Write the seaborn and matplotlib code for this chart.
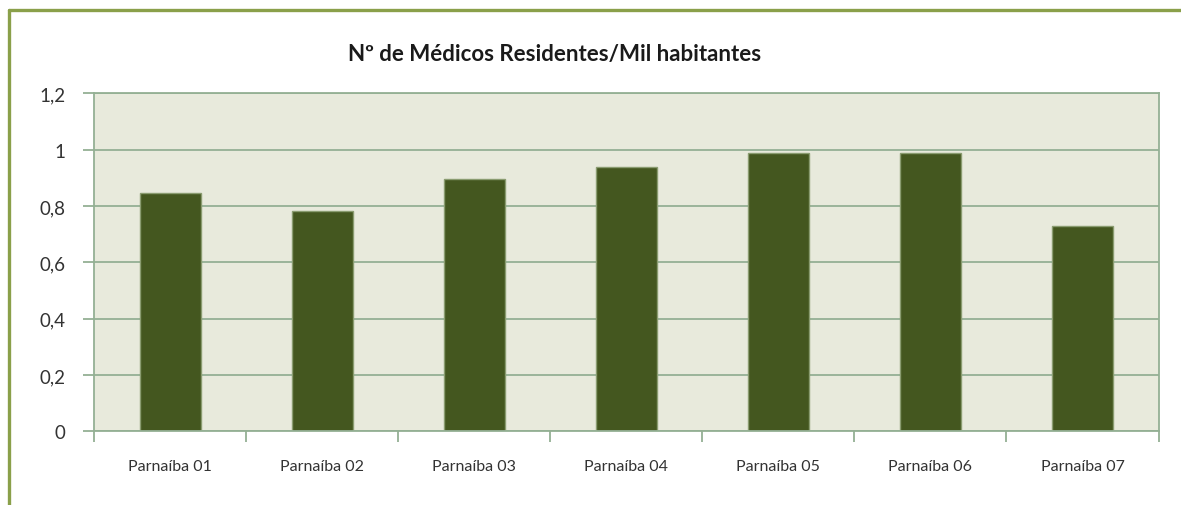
import matplotlib
matplotlib.use("Agg")
import matplotlib.pyplot as plt
import matplotlib.ticker as mticker
from matplotlib.lines import Line2D
import seaborn as sns
import pandas as pd

# Data
regioes = ["Parnaíba 01", "Parnaíba 02", "Parnaíba 03", "Parnaíba 04",
           "Parnaíba 05", "Parnaíba 06", "Parnaíba 07"]
medicos_por_mil = [0.846, 0.783, 0.896, 0.938, 0.988, 0.988, 0.729]
y_ticks = [0, 0.2, 0.4, 0.6, 0.8, 1.0, 1.2]
titulo = "Nº de Médicos Residentes/Mil habitantes"

df = pd.DataFrame({"regiao": regioes, "valor": medicos_por_mil})

sns.set_theme(style="white")
plt.rcParams["font.family"] = ["Lato", "DejaVu Sans"]

W, H = 1181, 506
fig = plt.figure(figsize=(W / 100, H / 100), dpi=100)
fig.patch.set_facecolor("white")

left, right, top, bottom = 94.3, 1158.5, 94.3, 432.3
ax = fig.add_axes([left / W, 1 - bottom / H, (right - left) / W, (bottom - top) / H])
ax.set_facecolor("#e8eadc")

axis_col = "#94b094"
sns.barplot(data=df, x="regiao", y="valor", ax=ax, color="#44571f",
            saturation=1, width=0.40, edgecolor="#8a9c70", linewidth=1.0)

ax.set_ylim(0, 1.2)
ax.set_xlim(-0.5, len(regioes) - 0.5)
ax.set_yticks(y_ticks)
ax.yaxis.set_major_formatter(mticker.FuncFormatter(
    lambda v, _: f"{v:g}".replace(".", ",")))
ax.grid(axis="y", color=axis_col, linewidth=1.3)
ax.set_axisbelow(True)
ax.set_xlabel("")
ax.set_ylabel("")

for s in ["top", "right", "left", "bottom"]:
    ax.spines[s].set_color(axis_col)
    ax.spines[s].set_linewidth(1.3)

# category boundary ticks on x
ax.set_xticks([i - 0.5 for i in range(len(regioes) + 1)], minor=True)
ax.set_xticks(range(len(regioes)))
ax.set_xticklabels(regioes)
ax.tick_params(axis="x", which="major", length=0, pad=20, labelsize=11.5,
               labelcolor="#333333")
ax.tick_params(axis="x", which="minor", bottom=True, length=8, width=1.3,
               color=axis_col, direction="out")
ax.tick_params(axis="y", left=True, length=8, width=1.3, color=axis_col,
               direction="out", pad=13, labelsize=13.5, labelcolor="#333333")

fig.text(555 / W, 1 - 55 / H, titulo, ha="center", va="center",
         fontsize=16, fontweight="bold", color="#1a1a1a")

# outer frame lines
frame_col = "#8aa04a"
fig.add_artist(Line2D([8.5 / W, 1.0], [1 - 10.5 / H, 1 - 10.5 / H],
                      transform=fig.transFigure, color=frame_col, linewidth=2.4))
fig.add_artist(Line2D([8.5 / W, 8.5 / W], [1 - 10.5 / H, 0.0],
                      transform=fig.transFigure, color=frame_col, linewidth=2.4))

fig.savefig("out.png", dpi=100, facecolor="white")
